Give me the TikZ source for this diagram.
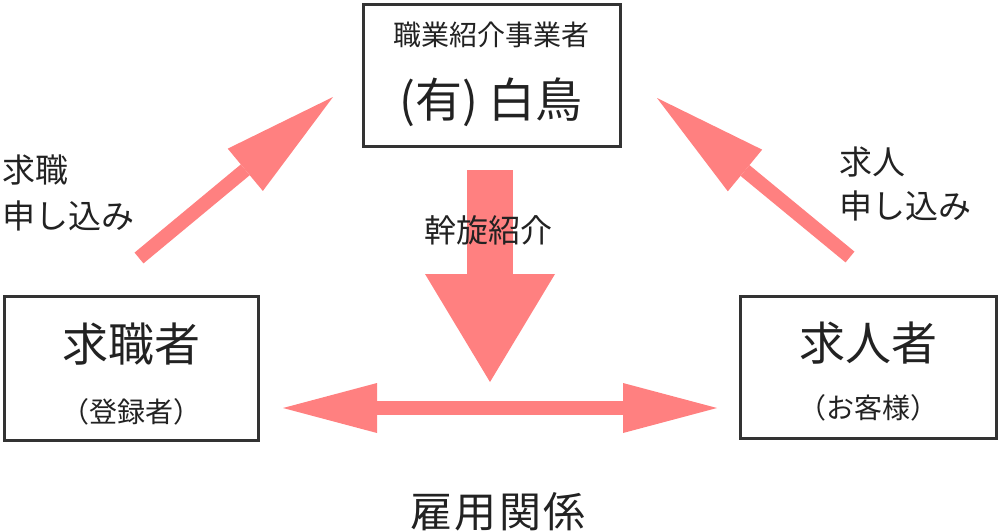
\documentclass[tikz,border=0pt]{standalone}
\usepackage{fontspec}
\setmainfont{Noto Sans CJK JP}
\usepackage{xcolor}
\usetikzlibrary{arrows.meta}
\definecolor{pinkarrow}{HTML}{FF8080}
\definecolor{boxgray}{HTML}{333333}
\definecolor{textgray}{HTML}{222222}
\newcommand{\fsz}[1]{\fontsize{#1}{#1}\selectfont}

\begin{document}
\begin{tikzpicture}[x=1pt,y=-1pt]
      \useasboundingbox(0,0) rectangle (1000,531);
      \tikzset{B/.style = {shape=rectangle, draw=boxgray, line width=3pt, inner sep=0pt}}
      \tikzset{T/.style = {text=textgray, inner sep=0pt}}
      \tikzset{A/.style = {draw=pinkarrow, line width=14pt}}
      \node[B,minimum width=257pt,minimum height=142pt](agency) at (492,75) {};
      \node[B,minimum width=254pt,minimum height=144pt](seeker) at (131.5,368.5) {};
      \node[B,minimum width=256pt,minimum height=142pt](client) at (868.5,367.5) {};
      \coordinate (s0) at (139,258);
      \coordinate (s1) at (333,97);
      \coordinate (c0) at (850,257);
      \coordinate (c1) at (657,98);
      \coordinate (m0) at (490,170);
      \coordinate (m1) at (490,382);
      \coordinate (e0) at (283,408);
      \coordinate (e1) at (717,408);
      \draw[A,-{Triangle[length=114pt,width=55pt,line width=0pt]}](s0) to (s1);
      \draw[A,-{Triangle[length=114pt,width=54pt,line width=0pt]}](c0) to (c1);
      \draw[A,line width=46pt,-{Triangle[length=108pt,width=130pt,line width=0pt]}](m0) to (m1);
      \draw[A,{Triangle[length=94pt,width=50pt,line width=0pt]}-{Triangle[length=94pt,width=50pt,line width=0pt]}](e0) to (e1);
      \node[T,font=\fsz{28}] at (491,35) {職業紹介事業者};
      \node[T,font=\fsz{47}] at (491,102) {(有) 白鳥};
      \node[T,font=\fsz{33},anchor=west] at (2,170) {求職};
      \node[T,font=\fsz{33},anchor=west] at (2,216) {申し込み};
      \node[T,font=\fsz{33},anchor=west] at (839,162) {求人};
      \node[T,font=\fsz{33},anchor=west] at (839,206) {申し込み};
      \node[T,font=\fsz{32}] at (488,230) {幹旋紹介};
      \node[T,font=\fsz{46}] at (131,344) {求職者};
      \node[T,font=\fsz{28}] at (131,412) {（登録者）};
      \node[T,font=\fsz{46}] at (868,343) {求人者};
      \node[T,font=\fsz{28}] at (868,408) {（お客様）};
      \node[T,font=\fsz{42}\addfontfeature{LetterSpace=5}] at (498,512) {雇用関係};
\end{tikzpicture}
\end{document}
